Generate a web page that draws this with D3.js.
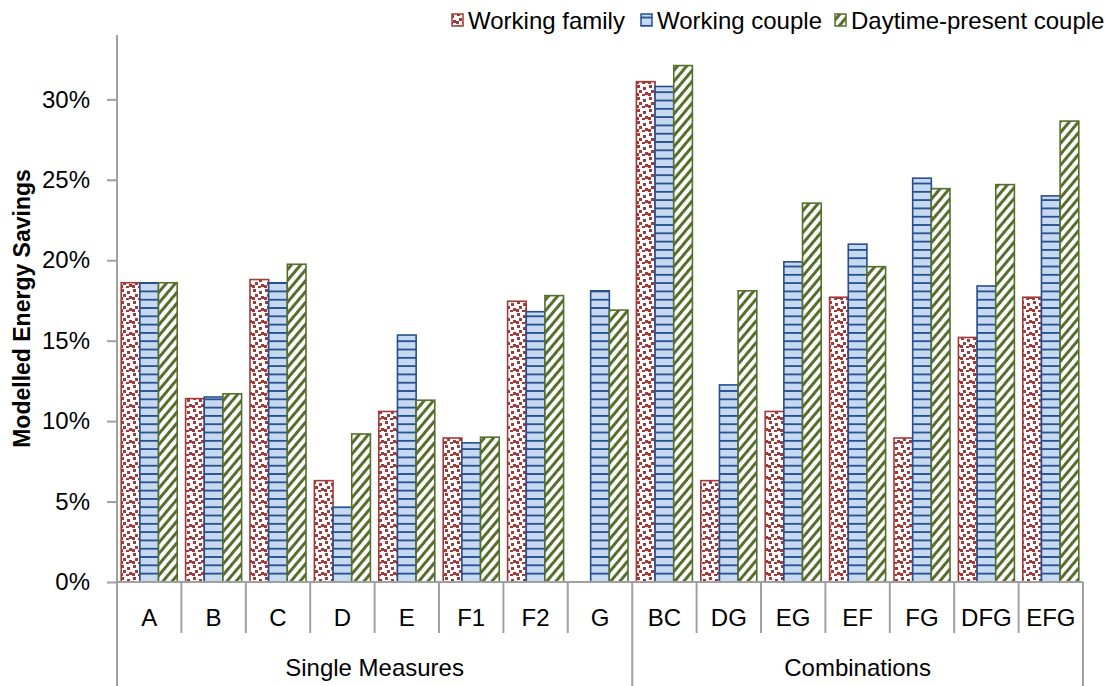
<html>
<head>
  <title>Modelled Energy Savings</title>
  <script src='https://d3js.org/d3.v7.min.js'></script>
  <style>
  body { margin: 0; background: #fff; }
  text { font-family: 'Liberation Sans', Arial, sans-serif; }
  </style>
</head>
<body>
  <script>

var categories = ['A','B','C','D','E','F1','F2','G','BC','DG','EG','EF','FG','DFG','EFG'];
var groups = [
  {name: 'Single Measures', from: 'A', to: 'G'},
  {name: 'Combinations', from: 'BC', to: 'EFG'}
];
var seriesNames = ['Working family', 'Working couple', 'Daytime-present couple'];

// values in percent (null = no bar)
var workingFamily = [18.6, 11.4, 18.8, 6.3, 10.6, 8.95, 17.45, null, 31.1, 6.3, 10.6, 17.7, 8.95, 15.2, 17.7];
var workingCouple = [18.6, 11.5, 18.6, 4.65, 15.35, 8.65, 16.8, 18.1, 30.8, 12.25, 19.9, 21.0, 25.1, 18.4, 24.0];
var daytimeCouple = [18.6, 11.7, 19.75, 9.2, 11.3, 9.0, 17.8, 16.9, 32.1, 18.1, 23.55, 19.6, 24.45, 24.7, 28.65];
var yTicks = [0, 5, 10, 15, 20, 25, 30];

var series = [workingFamily, workingCouple, daytimeCouple];

var width = 1107,
    height = 686;

var svg = d3.select('body')
  .append('svg')
  .attr('width', width)
  .attr('height', height);

var defs = svg.append('defs');

// red confetti pattern
var pRed = defs.append('pattern')
  .attr('id', 'pRed')
  .attr('patternUnits', 'userSpaceOnUse')
  .attr('width', 12).attr('height', 12);
pRed.append('rect').attr('width', 12).attr('height', 12).attr('fill', '#fff');
[[1,1],[7,3],[3,6],[9,8],[0,9],[6,10]].forEach(function(p) {
  pRed.append('rect').attr('x', p[0]).attr('y', p[1])
    .attr('width', 3).attr('height', 3).attr('fill', '#a33a3a');
});

// blue horizontal lines
var pBlue = defs.append('pattern')
  .attr('id', 'pBlue')
  .attr('patternUnits', 'userSpaceOnUse')
  .attr('width', 8).attr('height', 8.3);
pBlue.append('rect').attr('width', 8).attr('height', 8.3).attr('fill', '#c6d9f1');
pBlue.append('rect').attr('y', 0).attr('width', 8).attr('height', 1.8).attr('fill', '#264f8e');

// green diagonal stripes
var pGreen = defs.append('pattern')
  .attr('id', 'pGreen')
  .attr('patternUnits', 'userSpaceOnUse')
  .attr('width', 7).attr('height', 7)
  .attr('patternTransform', 'rotate(40)');
pGreen.append('rect').attr('width', 7).attr('height', 7).attr('fill', '#fff');
pGreen.append('rect').attr('width', 3).attr('height', 7).attr('fill', '#566f2c');

var fills = ['url(#pRed)', 'url(#pBlue)', 'url(#pGreen)'];
var strokes = ['#a33a3a', '#264f8e', '#566f2c'];

var plotLeft = 117, plotRight = 1083, plotTop = 35, plotBottom = 582;

var x = d3.scaleBand()
  .domain(categories)
  .range([plotLeft, plotRight]);

var xInner = d3.scaleBand()
  .domain([0, 1, 2])
  .range([4.2, x.bandwidth() - 4.2]);

var y = d3.scaleLinear()
  .domain([0, 34])
  .range([plotBottom, plotTop]);

// bars
series.forEach(function(vals, s) {
  svg.append('g').selectAll('rect')
    .data(vals.map(function(v, i) { return {cat: categories[i], v: v}; })
      .filter(function(d) { return d.v != null; }))
    .enter()
    .append('rect')
    .attr('x', function(d) { return x(d.cat) + xInner(s); })
    .attr('y', function(d) { return y(d.v); })
    .attr('width', xInner.bandwidth())
    .attr('height', function(d) { return y(0) - y(d.v); })
    .attr('fill', fills[s])
    .attr('stroke', strokes[s])
    .attr('stroke-width', 1.6);
});

// y axis
var yAxis = svg.append('g')
  .attr('transform', 'translate(' + plotLeft + ',0)')
  .call(d3.axisLeft(y).tickValues(yTicks).tickSize(10).tickPadding(17)
    .tickFormat(function(d) { return d + '%'; }));
yAxis.select('.domain').attr('stroke', '#a0a0a0').attr('stroke-width', 2)
  .attr('d', 'M0,' + plotTop + 'V' + plotBottom);
yAxis.selectAll('.tick line').attr('stroke', '#a0a0a0').attr('stroke-width', 2);
yAxis.selectAll('.tick text').attr('font-size', 24).attr('fill', '#000')
  .style('font-family', "'Liberation Sans', Arial, sans-serif");

// y title
svg.append('text')
  .attr('transform', 'translate(30,' + ((plotTop + plotBottom) / 2) + ') rotate(-90)')
  .attr('text-anchor', 'middle')
  .attr('font-size', 23)
  .attr('font-weight', 'bold')
  .text('Modelled Energy Savings');

// x axis line
var xAxis = svg.append('g');
xAxis.append('line')
  .attr('x1', plotLeft).attr('x2', plotRight)
  .attr('y1', plotBottom).attr('y2', plotBottom)
  .attr('stroke', '#a0a0a0').attr('stroke-width', 2);

// category separators
var seps = categories.map(function(c) { return x(c); }).concat([plotRight]);
xAxis.selectAll('line.sep')
  .data(seps)
  .enter()
  .append('line')
  .attr('class', 'sep')
  .attr('x1', function(d) { return d; }).attr('x2', function(d) { return d; })
  .attr('y1', plotBottom).attr('y2', 633)
  .attr('stroke', '#a0a0a0').attr('stroke-width', 2);

xAxis.selectAll('text.cat')
  .data(categories)
  .enter()
  .append('text')
  .attr('class', 'cat')
  .attr('x', function(d) { return x(d) + x.bandwidth() / 2; })
  .attr('y', 626)
  .attr('text-anchor', 'middle')
  .attr('font-size', 24)
  .text(function(d) { return d; });

// group separators and labels
var groupEdges = [x(groups[0].from), x(groups[1].from), plotRight];
xAxis.selectAll('line.grp')
  .data(groupEdges)
  .enter()
  .append('line')
  .attr('class', 'grp')
  .attr('x1', function(d) { return d; }).attr('x2', function(d) { return d; })
  .attr('y1', 633).attr('y2', height)
  .attr('stroke', '#a0a0a0').attr('stroke-width', 2);

xAxis.selectAll('text.grp')
  .data(groups)
  .enter()
  .append('text')
  .attr('class', 'grp')
  .attr('x', function(d) { return (x(d.from) + x(d.to) + x.bandwidth()) / 2; })
  .attr('y', 676)
  .attr('text-anchor', 'middle')
  .attr('font-size', 24)
  .text(function(d) { return d.name; });

// legend
var legendX = [452, 641, 835];
var legend = svg.append('g');
seriesNames.forEach(function(name, s) {
  legend.append('rect')
    .attr('x', legendX[s]).attr('y', 14)
    .attr('width', 11).attr('height', 12)
    .attr('fill', fills[s])
    .attr('stroke', strokes[s]).attr('stroke-width', 1.5);
  legend.append('text')
    .attr('x', legendX[s] + 16).attr('y', 29)
    .attr('font-size', 24)
    .text(name);
});

  </script>
</body>
</html>
